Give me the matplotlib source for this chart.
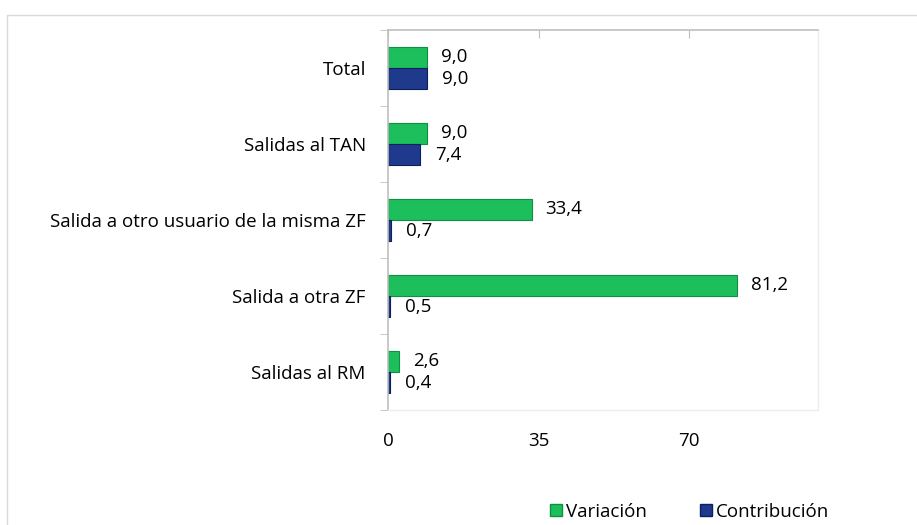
import matplotlib
matplotlib.use("Agg")
import matplotlib.pyplot as plt
from matplotlib.patches import Rectangle
from matplotlib.lines import Line2D
import numpy as np

# datos
categorias = ["Total", "Salidas al TAN", "Salida a otro usuario de la misma ZF",
              "Salida a otra ZF", "Salidas al RM"]
variacion = [9.0, 9.0, 33.4, 81.2, 2.6]
contribucion = [9.0, 7.4, 0.7, 0.5, 0.4]
ticks_x = [0, 35, 70]

verde = "#1DBF5C"
verde_borde = "#0F8F42"
azul = "#1F3A8C"
azul_borde = "#0E1F5E"

plt.rcParams["font.family"] = ["Open Sans", "DejaVu Sans"]
fs = 13.5

fig = plt.figure(figsize=(9.17, 5.25), dpi=100)
# marco exterior
fig.patches.append(Rectangle((7 / 917, -0.1), 1.2, 1 - 15 / 525 + 0.1,
                             transform=fig.transFigure, fill=False,
                             edgecolor="#D9D9D9", lw=1))

ax = fig.add_axes([388 / 917, 1 - 410 / 525, 430 / 917, 380 / 525])

y = np.arange(len(categorias))
h = 0.28
ax.barh(y - h / 2, variacion, height=h, color=verde, edgecolor=verde_borde, lw=0.8)
ax.barh(y + h / 2, contribucion, height=h, color=azul, edgecolor=azul_borde, lw=0.8)

def fmt(v):
    return f"{v:.1f}".replace(".", ",")

for yi, v in zip(y, variacion):
    ax.annotate(fmt(v), (v, yi - h / 2), xytext=(10, 0), textcoords="offset points",
                va="center", ha="left", fontsize=fs, color="#000000")
for yi, v in zip(y, contribucion):
    ax.annotate(fmt(v), (v, yi + h / 2), xytext=(11, 0), textcoords="offset points",
                va="center", ha="left", fontsize=fs, color="#000000")

ax.set_xlim(0, 100)
ax.set_ylim(len(categorias) - 0.5, -0.5)

ax.set_yticks(y)
ax.set_yticklabels(categorias, fontsize=fs)
ax.set_yticks(np.arange(-0.5, len(categorias)), minor=True)
ax.tick_params(axis="y", which="major", length=0, pad=16)
ax.tick_params(axis="y", which="minor", length=6, color="#BFBFBF", direction="out")

ax.set_xticks(ticks_x)
ax.set_xticklabels([str(t) for t in ticks_x], fontsize=fs)
ax.tick_params(axis="x", which="major", bottom=False, top=True, direction="in",
               length=6, color="#BFBFBF")
ax.tick_params(axis="x", labelbottom=True, labeltop=False, pad=16)

for s in ["top", "left"]:
    ax.spines[s].set_color("#BFBFBF")
    ax.spines[s].set_linewidth(1.2)
for s in ["right", "bottom"]:
    ax.spines[s].set_color("#EDEDED")
    ax.spines[s].set_linewidth(1)

handles = [Line2D([], [], marker="s", ls="none", markersize=9, markerfacecolor=verde,
                  markeredgecolor=verde_borde, label="Variación"),
           Line2D([], [], marker="s", ls="none", markersize=9, markerfacecolor=azul,
                  markeredgecolor=azul_borde, label="Contribución")]
fig.legend(handles=handles, loc="center right", bbox_to_anchor=(829 / 917, 1 - 512 / 525),
           ncol=2, frameon=False, fontsize=fs, handletextpad=0.1, columnspacing=2.8,
           handlelength=0.8, borderaxespad=0, borderpad=0)

fig.savefig("out.png", dpi=100)
